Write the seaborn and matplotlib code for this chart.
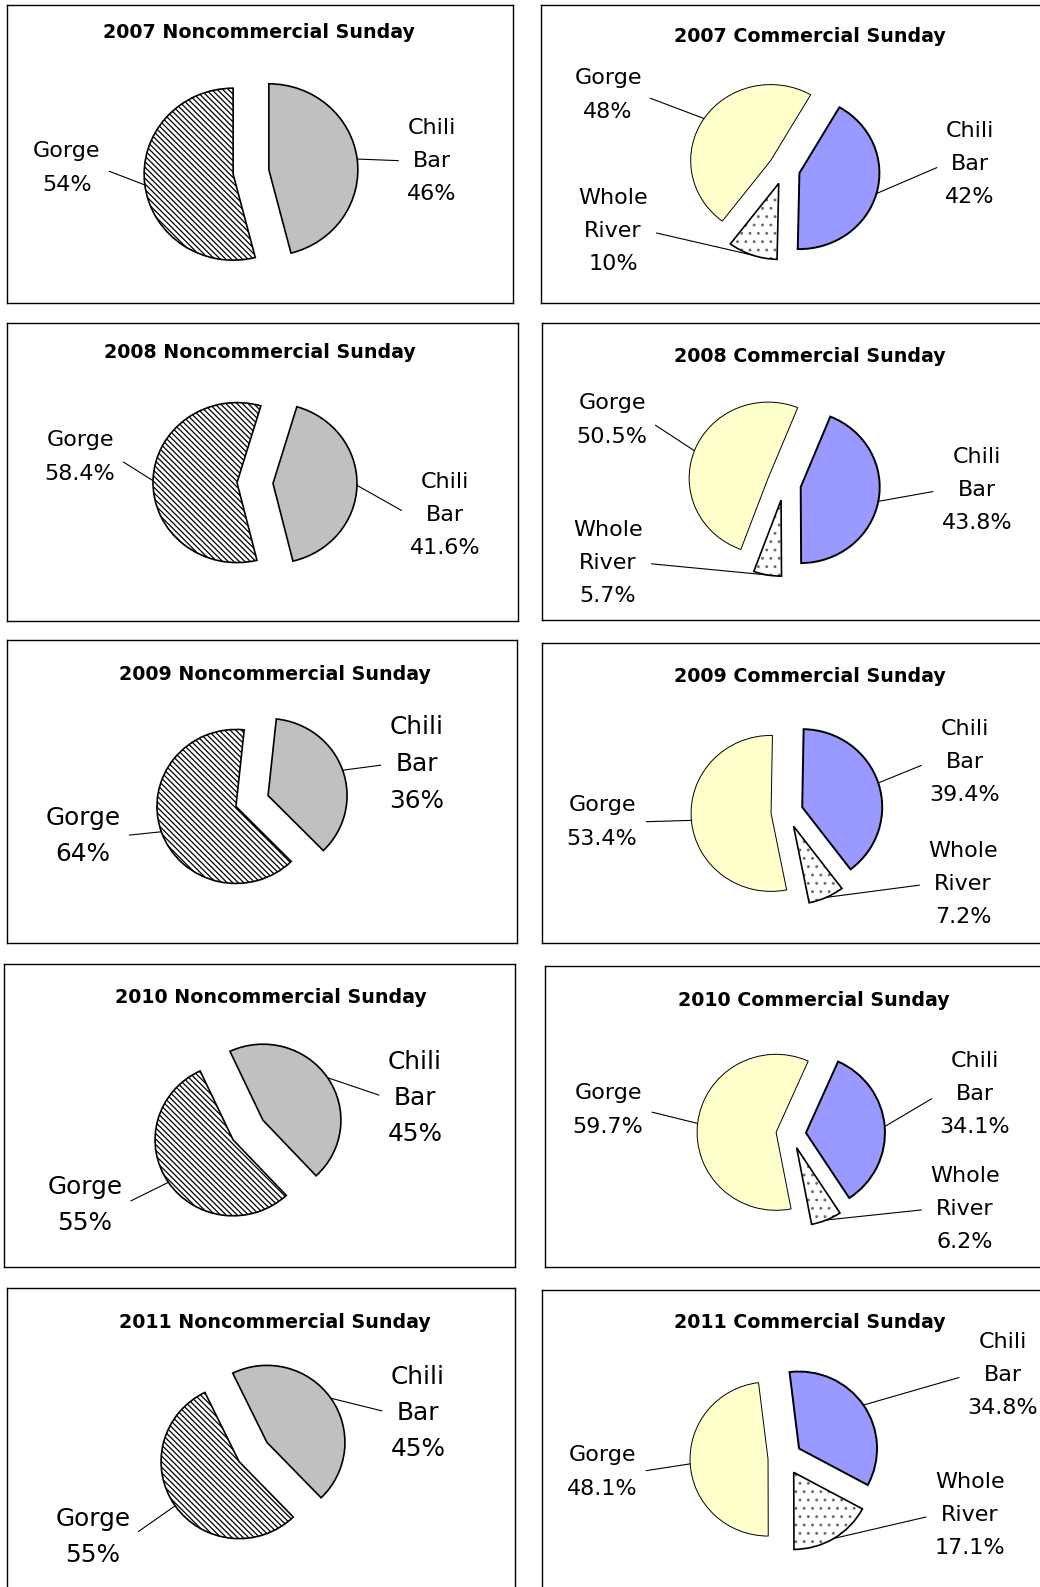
import matplotlib
matplotlib.use("Agg")
import matplotlib.pyplot as plt
from matplotlib.patches import Wedge
import numpy as np
import seaborn as sns

# ---------------- data ----------------
years = ["2007", "2008", "2009", "2010", "2011"]
nc_names = ["Chili\nBar", "Gorge"]
nc_chili_bar = [46, 41.6, 36, 45, 45]
nc_gorge = [54, 58.4, 64, 55, 55]
c_names = ["Chili\nBar", "Whole\nRiver", "Gorge"]
c_chili_bar = [42, 43.8, 39.4, 34.1, 34.8]
c_whole_river = [10, 5.7, 7.2, 6.2, 17.1]
c_gorge = [48, 50.5, 53.4, 59.7, 48.1]

# ---------------- style ----------------
sns.set_theme(style="white")
plt.rcParams["font.family"] = ["DejaVu Sans"]
plt.rcParams["hatch.linewidth"] = 0.9

W, H = 1040, 1587
fig = plt.figure(figsize=(W / 100, H / 100), dpi=100)

# layout in reference pixel space (y down)
nc_layout = [
    dict(box=(7, 5, 513, 303), c=(251, 172), r=(89, 86), d=18, t0=0,
         labels=[(432, 161), (67, 168)], fs=16, ls=1.83, title=(259, 33)),
    dict(box=(7, 323, 518, 621), c=(255, 483), r=(84, 80), d=18, t0=16.5,
         labels=[(445, 515), (80, 457)], fs=16, ls=1.83, title=(260, 352)),
    dict(box=(7, 640, 517, 943), c=(252, 801), r=(79, 77), d=17, t0=6,
         labels=[(417, 764), (83, 836)], fs=17.8, ls=1.68, title=(275, 675)),
    dict(box=(4, 964, 515, 1267), c=(248, 1130), r=(78, 76), d=18, t0=-25,
         labels=[(415, 1098), (85, 1205)], fs=17.8, ls=1.63, title=(271, 997)),
    dict(box=(7, 1288, 515, 1600), c=(253, 1452), r=(78, 77), d=17, t0=-26,
         labels=[(418, 1413), (93, 1537)], fs=17.8, ls=1.62, title=(275, 1323)),
]
c_layout = [
    dict(box=(541, 5, 1047, 303), c=(784, 169), r=(80, 76), d=16, t0=30,
         labels=[(970, 164), (613, 231), (608, 95)], fs=16, ls=1.83, title=(810, 37)),
    dict(box=(542, 323, 1048, 620), c=(784, 484), r=(79, 76), d=17, t0=22,
         labels=[(977, 490), (608, 563), (612, 420)], fs=16, ls=1.83, title=(810, 356)),
    dict(box=(542, 643, 1048, 943), c=(787, 812), r=(80, 78), d=16, t0=1,
         labels=[(965, 762), (963, 884), (602, 822)], fs=16, ls=1.83, title=(810, 676)),
    dict(box=(545, 966, 1051, 1267), c=(791, 1134), r=(79, 78), d=15, t0=24,
         labels=[(975, 1094), (965, 1209), (608, 1110)], fs=16, ls=1.83, title=(814, 1000)),
    dict(box=(542, 1290, 1048, 1600), c=(785, 1458), r=(78, 77), d=17, t0=-7,
         labels=[(1003, 1375), (970, 1515), (602, 1472)], fs=16, ls=1.83, title=(810, 1323)),
]

BS = chr(92)
nc_style = dict(fills=["#C0C0C0", "white"], hatches=[None, BS * 6],
                hcols=["black", "black"], lws=[1.2, 1.2])
c_style = dict(fills=["#9999FF", "white", "#FFFFCC"], hatches=[None, "..", None],
               hcols=["black", "#6E6E6E", "black"], lws=[1.4, 1.2, 0.7])


def draw_panel(lay, values, names, style, title):
    x0, y0, x1, y1 = lay["box"]
    cx, cy = lay["c"]
    rh, rv = lay["r"]
    ax = fig.add_axes([x0 / W, 1 - y1 / H, (x1 - x0) / W, (y1 - y0) / H])

    def tod(px, py):
        return ((px - cx) / rh, (cy - py) / rv)

    e = lay["d"] / rh
    wedges, _ = ax.pie(values, explode=[e] * len(values),
                       startangle=90 - lay["t0"], counterclock=False,
                       radius=1, center=(0, 0), frame=True,
                       colors=style["fills"], wedgeprops=dict(linewidth=0))
    for w, h, hc, lw in zip(wedges, style["hatches"], style["hcols"], style["lws"]):
        if h:
            w.set_edgecolor(hc)
            w.set_hatch(h)
        ax.add_patch(Wedge(w.center, w.r, w.theta1, w.theta2, fill=False,
                           edgecolor="black", linewidth=lw))

    for w, name, v, lp in zip(wedges, names, values, lay["labels"]):
        m = np.deg2rad((w.theta1 + w.theta2) / 2)
        wx, wy = w.center
        xy = (wx + np.cos(m) * w.r, wy + np.sin(m) * w.r)
        tx, ty = tod(*lp)
        rel = (1, 0.5) if tx < xy[0] else (0, 0.5)
        ax.annotate(f"{name}\n{v:g}%", xy=xy, xytext=(tx, ty),
                    ha="center", va="center", fontsize=lay["fs"],
                    linespacing=lay["ls"], color="black",
                    arrowprops=dict(arrowstyle="-", color="black", lw=0.8,
                                    relpos=rel, shrinkA=4, shrinkB=0))

    tx, ty = tod(*lay["title"])
    ax.text(tx, ty, title, ha="center", va="center", fontsize=13.7,
            fontweight="bold", color="black")

    ax.set_aspect("auto")
    ax.set_xlim(tod(x0, 0)[0], tod(x1, 0)[0])
    ax.set_ylim(tod(0, y1)[1], tod(0, y0)[1])
    ax.set_xticks([])
    ax.set_yticks([])
    for s in ax.spines.values():
        s.set_visible(True)
        s.set_color("black")
        s.set_linewidth(1.0)


for i, yr in enumerate(years):
    draw_panel(nc_layout[i], [nc_chili_bar[i], nc_gorge[i]], nc_names, nc_style,
               f"{yr} Noncommercial Sunday")
    draw_panel(c_layout[i], [c_chili_bar[i], c_whole_river[i], c_gorge[i]],
               c_names, c_style, f"{yr} Commercial Sunday")

fig.savefig("out.png", dpi=100, facecolor="white")
